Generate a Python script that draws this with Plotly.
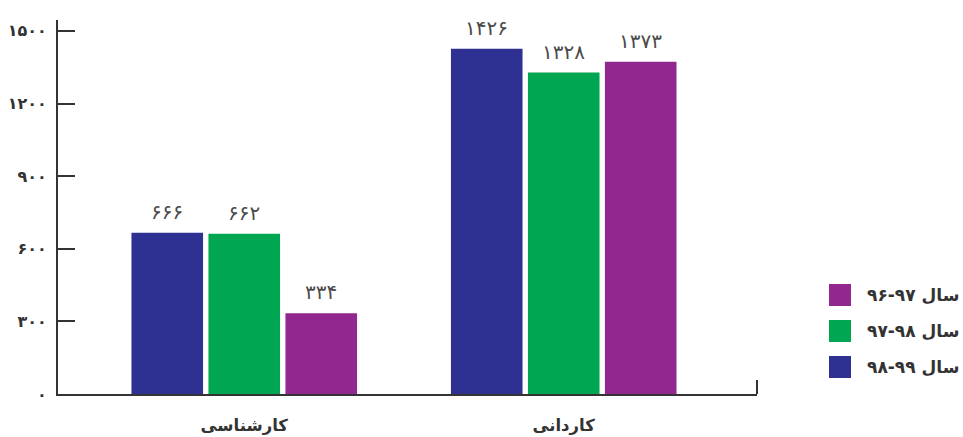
import plotly.graph_objects as go

categories = ["کارشناسی", "کاردانی"]
series_names = ["سال ۹۹-۹۸", "سال ۹۸-۹۷", "سال ۹۷-۹۶"]
series_values = [
    [666, 1426],
    [662, 1328],
    [334, 1373],
]
colors = ["#2E3192", "#00A651", "#92278F"]
tick_vals = [0, 300, 600, 900, 1200, 1500]
tick_text = ["۰", "۳۰۰", "۶۰۰", "۹۰۰", "۱۲۰۰", "۱۵۰۰"]

def fa(n):
    return str(n).translate(str.maketrans("0123456789", "۰۱۲۳۴۵۶۷۸۹"))

FONT = "DejaVu Sans"
fig = go.Figure()
for name, vals, c in zip(series_names, series_values, colors):
    fig.add_trace(go.Bar(x=categories, y=vals, name=name, marker_color=c,
                         marker_line_width=0, showlegend=False, hoverinfo="skip"))

# value labels
offsets = [-1, 0, 1]
ann = []
for i, vals in enumerate(series_values):
    for j, v in enumerate(vals):
        ann.append(dict(x=j + offsets[i] * 0.241, y=v, xref="x", yref="y",
                        text=fa(v), showarrow=False, yanchor="bottom", yshift=7,
                        font=dict(family=FONT, size=20, color="#4a4a4a")))

# legend (drawn manually, top to bottom: purple, green, blue)
W = 963 - 58 - 206
H = 437 - 20 - 43
shapes = []
leg_y = [295, 331, 367]
for k, idx in enumerate([2, 1, 0]):
    yc = leg_y[k]
    x0 = (829 - 58) / W
    x1 = (851 - 58) / W
    y0 = (437 - 43 - (yc + 11)) / H
    y1 = (437 - 43 - (yc - 11)) / H
    shapes.append(dict(type="rect", xref="paper", yref="paper", x0=x0, x1=x1,
                       y0=y0, y1=y1, fillcolor=colors[idx], line_width=0))
    ann.append(dict(xref="paper", yref="paper", x=(961 - 58) / W,
                    y=(437 - 43 - yc) / H, text="<b>" + series_names[idx] + "</b>",
                    showarrow=False, xanchor="right", yanchor="middle",
                    font=dict(family=FONT, size=17, color="#333333")))

# right end tick of x axis
shapes.append(dict(type="line", xref="paper", yref="paper", x0=1, x1=1,
                   y0=0, y1=14 / H, line=dict(color="#333333", width=2)))

fig.update_layout(
    width=963, height=437,
    margin=dict(l=58, r=206, t=20, b=43),
    paper_bgcolor="white", plot_bgcolor="white",
    barmode="group", bargap=0.277, bargroupgap=0.07,
    annotations=ann, shapes=shapes,
    xaxis=dict(range=[-0.583, 1.605], showline=True, linecolor="#333333",
               linewidth=2, ticks="", showgrid=False, zeroline=False,
               automargin=False,
               tickfont=dict(family=FONT, size=16.5, color="#333333"),
               ticklabelstandoff=15),
    yaxis=dict(range=[0, 1545], tickvals=tick_vals,
               ticktext=["<b>" + t + "</b>" for t in tick_text],
               showline=True, linecolor="#333333", linewidth=2,
               ticks="inside", ticklen=17, tickwidth=2, tickcolor="#333333",
               showgrid=False, zeroline=False, ticklabelstandoff=6,
               automargin=False,
               tickfont=dict(family=FONT, size=16, color="#333333")),
)
fig.update_xaxes(ticktext=["<b>" + c + "</b>" for c in categories], tickvals=categories)
fig.write_html("out.html", config={"displayModeBar": False},
               post_script="document.body.style.margin='0';document.body.style.overflow='hidden';")
